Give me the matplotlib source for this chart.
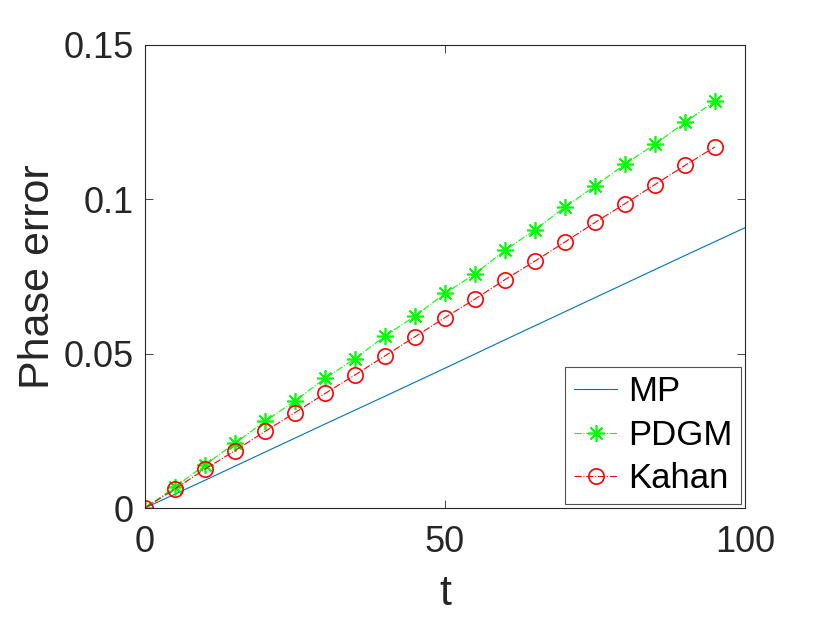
import numpy as np
import matplotlib
matplotlib.use("Agg")
import matplotlib.pyplot as plt

plt.rcParams['font.family'] = ['Liberation Sans', 'DejaVu Sans']

# data
t_mp = [0, 10, 20, 30, 40, 50, 60, 70, 80, 90, 100]
mp = [0, 0.0090, 0.0181, 0.0272, 0.0362, 0.0453, 0.0545, 0.0636, 0.0727, 0.0818, 0.0908]

t_mark = [0, 5, 10, 15, 20, 25, 30, 35, 40, 45, 50, 55, 60, 65, 70, 75, 80, 85, 90, 95]
pdgm = [0, 0.0068, 0.0140, 0.0210, 0.0281, 0.0347, 0.0420, 0.0484, 0.0557, 0.0622,
        0.0695, 0.0759, 0.0835, 0.0901, 0.0975, 0.1043, 0.1114, 0.1179, 0.1249, 0.1319]
kahan = [0, 0.0062, 0.0126, 0.0186, 0.0248, 0.0309, 0.0371, 0.0431, 0.0493, 0.0555,
         0.0617, 0.0677, 0.0740, 0.0800, 0.0862, 0.0925, 0.0986, 0.1048, 0.1110, 0.1170]

xticks = [0, 50, 100]
yticks = [0, 0.05, 0.1, 0.15]
yticklabels = ['0', '0.05', '0.1', '0.15']

dark = (0.15, 0.15, 0.15)

fig = plt.figure(figsize=(8.22, 6.17), dpi=100)
ax = fig.add_axes([145/822, 1 - 508/617, 600/822, 463/617])

ax.plot(t_mp, mp, '-', color=(0, 0.447, 0.741), linewidth=0.8, label='MP')
ax.plot(t_mark, pdgm, linestyle='-.', color=(0, 1, 0), linewidth=0.8,
        marker=(8, 2, 0), markersize=12, markeredgewidth=1.2, label='PDGM')
ax.plot(t_mark, kahan, linestyle='-.', color=(1, 0, 0), linewidth=0.8,
        marker='o', markersize=11, markerfacecolor='none', markeredgewidth=1.2,
        label='Kahan')

ax.set_xlim(0, 100)
ax.set_ylim(0, 0.15)
ax.set_xticks(xticks)
ax.set_yticks(yticks)
ax.set_yticklabels(yticklabels)
ax.tick_params(direction='in', top=True, right=True, length=6, width=0.6,
               labelsize=26, colors=dark)
ax.tick_params(axis='x', pad=12)
ax.tick_params(axis='y', pad=8)
for s in ax.spines.values():
    s.set_color(dark)
    s.set_linewidth(0.8)

ax.set_xlabel('t', fontsize=31, color=dark, labelpad=10)
ax.set_ylabel('Phase error', fontsize=31, color=dark, labelpad=4)

leg = ax.legend(loc='lower right', fontsize=25, frameon=True, fancybox=False,
                edgecolor=dark, handlelength=1.25, handletextpad=0.3,
                labelspacing=0.3, borderpad=0.25, borderaxespad=0.12)
leg.get_frame().set_linewidth(0.8)
for txt in leg.get_texts():
    txt.set_color('black')

fig.savefig('out.png', dpi=100)
